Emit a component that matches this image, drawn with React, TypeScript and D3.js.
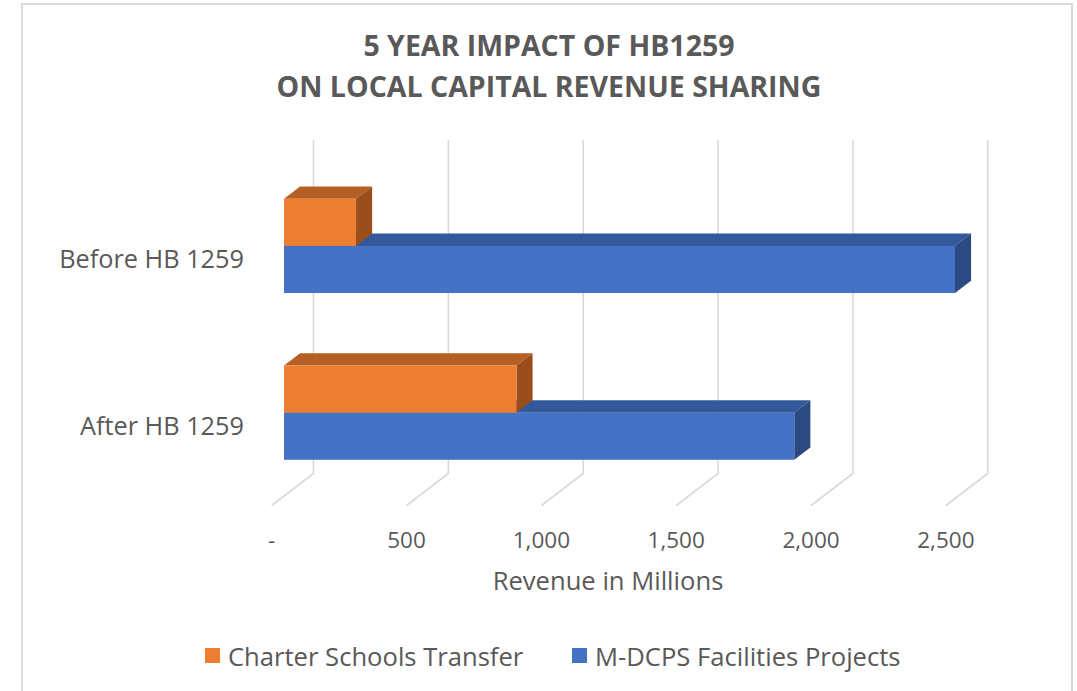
import React from 'react';
import * as d3 from 'd3';

const categories = ['Before HB 1259', 'After HB 1259'];
const seriesNames = ['Charter Schools Transfer', 'M-DCPS Facilities Projects'];
const charterValues = [267, 862];
const mdcpsValues = [2488, 1892];
const tickValues = [0, 500, 1000, 1500, 2000, 2500];
const tickLabels = ['-', '500', '1,000', '1,500', '2,000', '2,500'];
const titleLines = ['5 YEAR IMPACT OF HB1259', 'ON LOCAL CAPITAL REVENUE SHARING'];
const axisTitle = 'Revenue in Millions';

const colors = {
  Charter: { front: '#ED7D31', top: '#B65F24', side: '#9A4E1C' },
  MDCPS: { front: '#4472C4', top: '#34599B', side: '#2B4A82' },
};

const W = 1077;
const H = 691;
const FONT = "'Open Sans', 'Noto Sans', sans-serif";
const TEXT = '#595959';
const GRID = '#d9d9d9';

// depth projection: d = 0 (back wall) .. 1 (front)
const DX = -41.8;
const DY = 32;
const P = (x: number, y: number, d: number): [number, number] => [x + DX * d, y + DY * d];

export default function App() {
  const x = d3.scaleLinear().domain([0, 2500]).range([313.5, 987.7]);
  const wallTop = 140;
  const wallBottom = 473.5;
  const y = d3
    .scaleBand<string>()
    .domain(categories)
    .range([wallTop, wallBottom])
    .paddingInner(0.435)
    .paddingOuter(0.2175);
  const sub = d3.scaleBand<string>().domain(['Charter', 'MDCPS']).range([0, y.bandwidth()]);

  const dBack = 0.32;
  const dFront = 0.705;

  const line = d3.line();

  const bars: JSX.Element[] = [];
  categories.forEach((cat, i) => {
    const series = [
      { key: 'MDCPS', v: mdcpsValues[i] },
      { key: 'Charter', v: charterValues[i] },
    ];
    series.forEach((s) => {
      const y0 = (y(cat) as number) + (sub(s.key) as number);
      const y1 = y0 + sub.bandwidth();
      const x0 = x(0);
      const x1 = x(s.v);
      const c = (colors as any)[s.key];
      const f0 = P(x0, y0, dFront);
      const f1 = P(x1, y1, dFront);
      const top = [P(x0, y0, dFront), P(x1, y0, dFront), P(x1, y0, dBack), P(x0, y0, dBack)];
      const side = [P(x1, y0, dFront), P(x1, y0, dBack), P(x1, y1, dBack), P(x1, y1, dFront)];
      bars.push(
        <g key={cat + s.key}>
          <path d={line(top as any) + 'Z'} fill={c.top} />
          <path d={line(side as any) + 'Z'} fill={c.side} />
          <rect x={f0[0]} y={f0[1]} width={f1[0] - f0[0]} height={f1[1] - f0[1]} fill={c.front} />
        </g>
      );
    });
  });

  return (
    <svg
      width={W}
      height={H}
      viewBox={`0 0 ${W} ${H}`}
      style={{ position: 'absolute', left: 0, top: 0, background: '#fff' }}
    >
      <rect x={0} y={0} width={W} height={H} fill="#fff" />
      <rect x={22} y={4} width={1050} height={720} fill="#fff" stroke={GRID} strokeWidth={2} />

      {titleLines.map((t, i) => (
        <text
          key={t}
          x={549}
          y={56 + i * 41}
          textAnchor="middle"
          fontFamily={FONT}
          fontWeight={700}
          fontSize={28.5}
          fill={TEXT}
        >
          {t}
        </text>
      ))}

      {/* gridlines: back wall verticals + floor diagonals */}
      {tickValues.map((v) => {
        const bx = x(v);
        const pts: [number, number][] = [[bx, wallTop], [bx, wallBottom], P(bx, wallBottom, 1)];
        return <path key={v} d={line(pts) as string} fill="none" stroke={GRID} strokeWidth={1.6} />;
      })}

      {bars}

      {/* category labels */}
      {categories.map((cat) => {
        const cy = (y(cat) as number) + y.bandwidth() / 2;
        const p = P(0, cy, 1);
        return (
          <text
            key={cat}
            x={244}
            y={p[1] + 3}
            textAnchor="end"
            dominantBaseline="central"
            fontFamily={FONT}
            fontSize={25.3}
            fill={TEXT}
          >
            {cat}
          </text>
        );
      })}

      {/* tick labels */}
      {tickValues.map((v, i) => {
        const p = P(x(v), wallBottom, 1);
        return (
          <text
            key={v}
            x={p[0]}
            y={539}
            textAnchor="middle"
            dominantBaseline="central"
            fontFamily={FONT}
            fontSize={22.5}
            fill={TEXT}
          >
            {tickLabels[i]}
          </text>
        );
      })}

      <text
        x={608}
        y={580}
        textAnchor="middle"
        dominantBaseline="central"
        fontFamily={FONT}
        fontSize={25.6}
        fill={TEXT}
      >
        {axisTitle}
      </text>

      {/* legend */}
      {seriesNames.map((name, i) => {
        const lx = i === 0 ? 205 : 572;
        const c = i === 0 ? colors.Charter.front : colors.MDCPS.front;
        return (
          <g key={name}>
            <rect x={lx} y={648} width={15} height={15} fill={c} />
            <text
              x={lx + 23}
              y={656}
              dominantBaseline="central"
              fontFamily={FONT}
              fontSize={25.6}
              fill={TEXT}
            >
              {name}
            </text>
          </g>
        );
      })}
    </svg>
  );
}
